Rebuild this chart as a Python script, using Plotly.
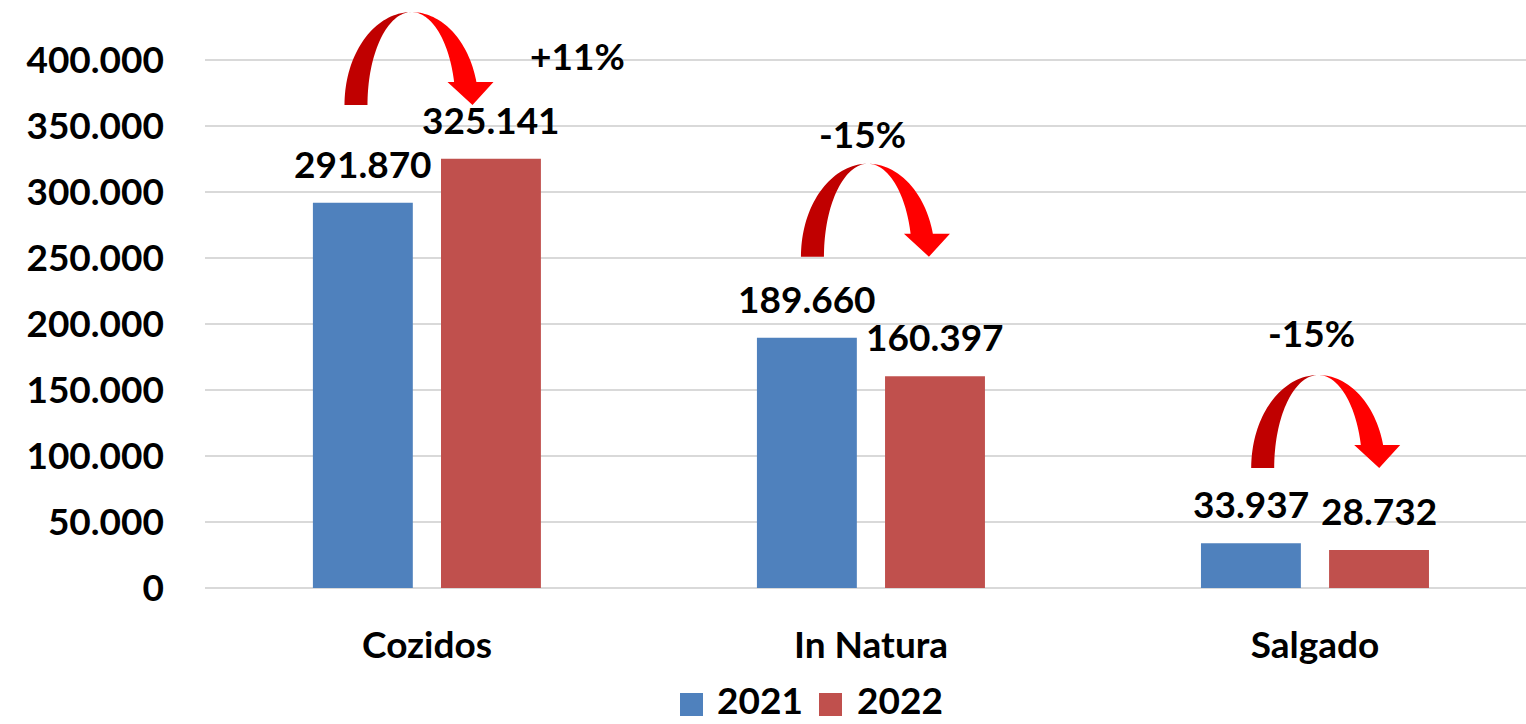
import math
import plotly.graph_objects as go

# ---- data ---------------------------------------------------------------
categories = ["Cozidos", "In Natura", "Salgado"]
series_names = ["2021", "2022"]
values_2021 = [291870, 189660, 33937]
values_2022 = [325141, 160397, 28732]
y_tick_values = [0, 50000, 100000, 150000, 200000, 250000, 300000, 350000, 400000]

# ---- style / layout constants -------------------------------------------
SERIES_COLORS = ["#4F81BD", "#C0504D"]
ARROW_DARK = "#C00000"
ARROW_LIGHT = "#FF0000"
GRID = "#D9D9D9"
FONT = "Lato"
FS = 37

W, H = 1526, 724
ML, MR, MT, MB = 205, 0, 0, 136
X_RANGE = [-0.5, 2.475]
Y_RANGE = [0, 445500]

BAR_W = 0.225
BAR_OFFSETS = [-0.257, 0.0315]

# curved arrow anchors (axis units, per category) and label spots
ARROW_ANCHORS = [(-0.035, 365900), (0.993, 251000), (2.007, 90900)]
PCT_LABEL_POS = [(0.34, 403800), (0.98, 344700), (1.993, 193900)]


def fmt_thousands(v):
    return f"{v:,}".replace(",", ".")


def arrow_paths():
    """Curved 'down' arrow in pixel offsets (y up), split into a shaded
    back half and a bright front half with the arrow head."""
    a_out, a_in, b = 67.0, 44.0, 93.0
    head_y, head_l, head_r, tip_x = 23.0, 36.0, 82.0, 61.0
    n = 40

    def pt(x, y):
        return f"{x:.2f},{y:.2f}"

    # back half: outer arc from the left foot to the apex, inner arc back
    back = []
    for k in range(n + 1):
        t = math.pi - (math.pi / 2) * k / n
        back.append(pt(a_out * math.cos(t), b * math.sin(t)))
    for k in range(n + 1):
        t = math.pi / 2 + (math.pi / 2) * k / n
        back.append(pt(a_in * math.cos(t), b * math.sin(t)))
    back_path = "M" + " L".join(back) + " Z"

    # front half: outer arc down to the head, head, inner arc back up
    th = math.asin(head_y / b)
    front = []
    for k in range(n + 1):
        t = math.pi / 2 - (math.pi / 2 - th) * k / n
        front.append(pt(a_out * math.cos(t), b * math.sin(t)))
    front.append(pt(head_r, head_y))
    front.append(pt(tip_x, 0))
    front.append(pt(head_l, head_y))
    for k in range(n + 1):
        t = th + (math.pi / 2 - th) * k / n
        front.append(pt(a_in * math.cos(t), b * math.sin(t)))
    front_path = "M" + " L".join(front) + " Z"
    return back_path, front_path


fig = go.Figure()

x_idx = list(range(len(categories)))
all_values = [values_2021, values_2022]

for s, (name, vals) in enumerate(zip(series_names, all_values)):
    fig.add_trace(go.Bar(
        x=x_idx, y=vals, name=name,
        width=BAR_W, offset=BAR_OFFSETS[s],
        marker=dict(color=SERIES_COLORS[s], line=dict(width=0)),
        showlegend=False,
        hoverinfo="skip",
    ))

annotations = []
label_font = dict(family=FONT, size=FS, color="black", weight="bold")

# value labels above each bar
for s, vals in enumerate(all_values):
    for i, v in enumerate(vals):
        annotations.append(dict(
            x=i + BAR_OFFSETS[s] + BAR_W / 2, y=v, xref="x", yref="y",
            text=fmt_thousands(v), showarrow=False,
            xanchor="center", yanchor="bottom", yshift=15,
            font=label_font,
        ))

# change labels
for i, (v1, v2) in enumerate(zip(values_2021, values_2022)):
    pct = round((v2 / v1 - 1) * 100)
    px_, py_ = PCT_LABEL_POS[i]
    annotations.append(dict(
        x=px_, y=py_, xref="x", yref="y",
        text=f"{pct:+d}%", showarrow=False,
        xanchor="center", yanchor="middle",
        font=label_font,
    ))

# curved arrows
shapes = []
back_path, front_path = arrow_paths()
for ax_, ay_ in ARROW_ANCHORS:
    for path, col in ((back_path, ARROW_DARK), (front_path, ARROW_LIGHT)):
        shapes.append(dict(
            type="path", path=path, xref="x", yref="y",
            xsizemode="pixel", ysizemode="pixel",
            xanchor=ax_, yanchor=ay_,
            fillcolor=col, line=dict(width=0), layer="above",
        ))

# legend (square swatches + names) below the plot
plot_w = W - ML - MR
plot_h = H - MT - MB


def px_to_paper_x(px):
    return (px - ML) / plot_w


def px_to_paper_y(py):
    return (H - MB - py) / plot_h


legend_swatch_left = [680, 819]
legend_text_left = [715, 855]
SWATCH_CY = 705
TEXT_CY = 699
for s, name in enumerate(series_names):
    shapes.append(dict(
        type="rect", xref="paper", yref="paper",
        x0=px_to_paper_x(legend_swatch_left[s]),
        x1=px_to_paper_x(legend_swatch_left[s] + 23),
        y0=px_to_paper_y(SWATCH_CY + 11), y1=px_to_paper_y(SWATCH_CY - 12),
        fillcolor=SERIES_COLORS[s], line=dict(width=0),
    ))
    annotations.append(dict(
        x=px_to_paper_x(legend_text_left[s]), y=px_to_paper_y(TEXT_CY),
        xref="paper", yref="paper", text=name, showarrow=False,
        xanchor="left", yanchor="middle", font=label_font,
    ))

fig.update_layout(
    width=W, height=H,
    margin=dict(l=ML, r=MR, t=MT, b=MB, pad=0),
    paper_bgcolor="white", plot_bgcolor="white",
    separators=",.",
    font=dict(family=FONT, size=FS, color="black", weight="bold"),
    barmode="overlay",
    showlegend=False,
    annotations=annotations,
    shapes=shapes,
)

fig.update_xaxes(
    range=X_RANGE, tickvals=x_idx, ticktext=categories,
    showgrid=False, zeroline=False, showline=False, ticks="",
    tickfont=dict(family=FONT, size=FS, color="black", weight="bold"),
    ticklabelstandoff=32,
)
fig.update_yaxes(
    range=Y_RANGE, tickvals=y_tick_values, tickformat=",.0f",
    showgrid=True, gridcolor=GRID, gridwidth=2,
    zeroline=True, zerolinecolor=GRID, zerolinewidth=2,
    showline=False, ticks="",
    tickfont=dict(family=FONT, size=FS, color="black", weight="bold"),
    ticklabelstandoff=40,
)

fig.write_html("out.html")
